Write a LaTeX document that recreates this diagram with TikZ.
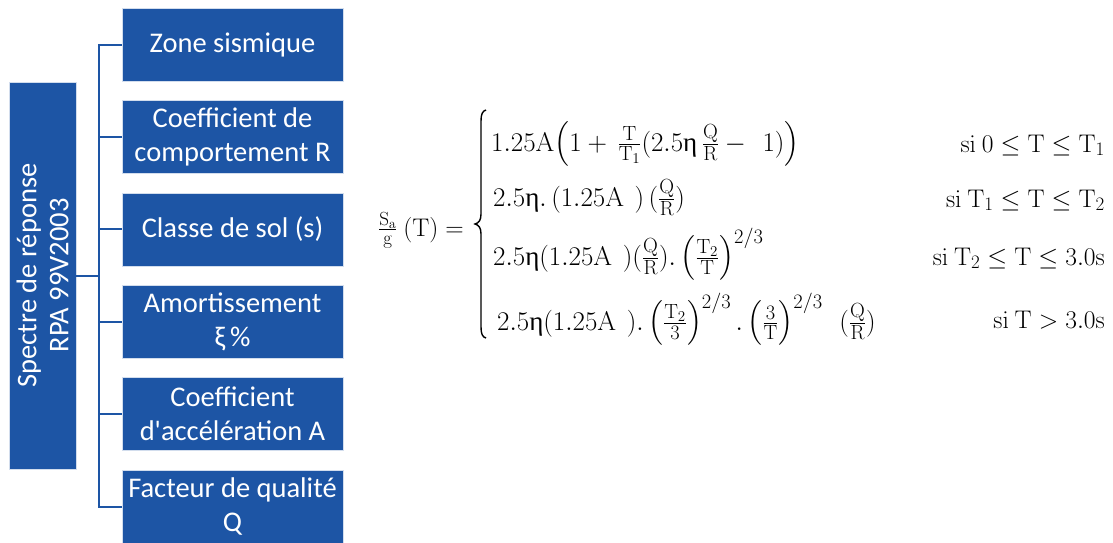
\RequirePackage{fix-cm}
\documentclass[tikz,border=0pt]{standalone}
\usepackage{amsmath}
\usepackage[no-math]{fontspec}
\setmainfont{Carlito}
\newfontfamily\grk{Liberation Serif}
\DeclareMathSizes{25.5}{25.5}{19}{14}
\DeclareMathSizes{27}{27}{20.5}{15}
\definecolor{boxblue}{RGB}{29,85,165}
\newcommand\etaup{\mbox{\grk η}}
\tikzset{
  leaf/.style={fill=boxblue, draw=white!80!boxblue, line width=0.6pt, text=white,
    minimum width=221pt, minimum height=73pt, inner sep=0pt, align=center,
    font=\fontsize{28.5}{34}\selectfont},
  rootbox/.style={fill=boxblue, draw=white!80!boxblue, line width=0.6pt, text=white,
    minimum width=387pt, minimum height=67pt, inner sep=0pt, align=center, rotate=90,
    font=\fontsize{28.5}{32}\selectfont},
  conn/.style={draw=boxblue, line width=2pt},
  eq/.style={inner sep=0pt, font=\fontsize{25.5}{30}\selectfont},
  roweq/.style={inner sep=0pt, anchor=base west, font=\fontsize{27}{32}\selectfont}
}
\begin{document}
\begin{tikzpicture}[x=1pt,y=-1pt]
\useasboundingbox (0,0) rectangle (1113,542);
\node[rootbox] (root) at (42.5,275.5) {Spectre de réponse\\RPA 99V2003};
\node[leaf] (b1) at (232.5,44.5) {Zone sismique};
\node[leaf] (b2) at (232.5,136.9) {Coefficient de\\comportement R};
\node[leaf] (b3) at (232.5,229.3) {Classe de sol (s)};
\node[leaf] (b4) at (232.5,321.7) {Amortissement\\ξ\,\%};
\node[leaf] (b5) at (232.5,414.1) {Coefficient\\d\textquotesingle accélération A};
\node[leaf] (b6) at (232.5,506.5) {Facteur de qualité\\Q};
\coordinate (j) at (99,275.5);
\draw[conn] (root.south) -- (j);
\foreach \b in {b1,b2,b3,b4,b5,b6} \draw[conn] (j) |- (\b.west);
% formula
\node[eq, anchor=base east] (lhs) at (464,236) {$\frac{\mathrm{S_a}}{\mathrm{g}}\ (\mathrm{T}) =$};
\draw[line width=1.4pt] (486,110) .. controls (482.5,111) and (481,114) .. (481,121)
  -- (481,214) .. controls (481,220) and (479,223) .. (475,224)
  .. controls (479,225) and (481,228) .. (481,234)
  -- (481,327) .. controls (481,334) and (482.5,337) .. (486,338);
\node[roweq] (r1) at (491,151) {$\mathrm{1.25A}\!\left(1+\,\frac{\mathrm{T}}{\mathrm{T_1}}(2.5\etaup\,\frac{\mathrm{Q}}{\mathrm{R}}-\ \,1)\right)$};
\node[roweq] (r2) at (493,206) {$2.5\etaup.\,(\mathrm{1.25A}\ \,)\,(\frac{\mathrm{Q}}{\mathrm{R}})$};
\node[roweq] (r3) at (493,265) {$2.5\etaup(\mathrm{1.25A}\ \,)(\frac{\mathrm{Q}}{\mathrm{R}}).\left(\frac{\mathrm{T_2}}{\mathrm{T}}\right)^{2/3}$};
\node[roweq] (r4) at (497,330) {$2.5\etaup(\mathrm{1.25A}\ \,).\left(\frac{\mathrm{T_2}}{3}\right)^{2/3}.\left(\frac{3}{\mathrm{T}}\right)^{2/3}\ \ (\frac{\mathrm{Q}}{\mathrm{R}})$};
\node[eq, anchor=base east] (c1) at (1105,152) {$\mathrm{si}\ 0\leq\mathrm{T}\leq\mathrm{T_1}$};
\node[eq, anchor=base east] (c2) at (1105,207) {$\mathrm{si}\ \mathrm{T_1}\leq\mathrm{T}\leq\mathrm{T_2}$};
\node[eq, anchor=base east] (c3) at (1105,265) {$\mathrm{si}\ \mathrm{T_2}\leq\mathrm{T}\leq 3.0\mathrm{s}$};
\node[eq, anchor=base east] (c4) at (1105,328) {$\mathrm{si}\ \mathrm{T}>3.0\mathrm{s}$};
\end{tikzpicture}
\end{document}
